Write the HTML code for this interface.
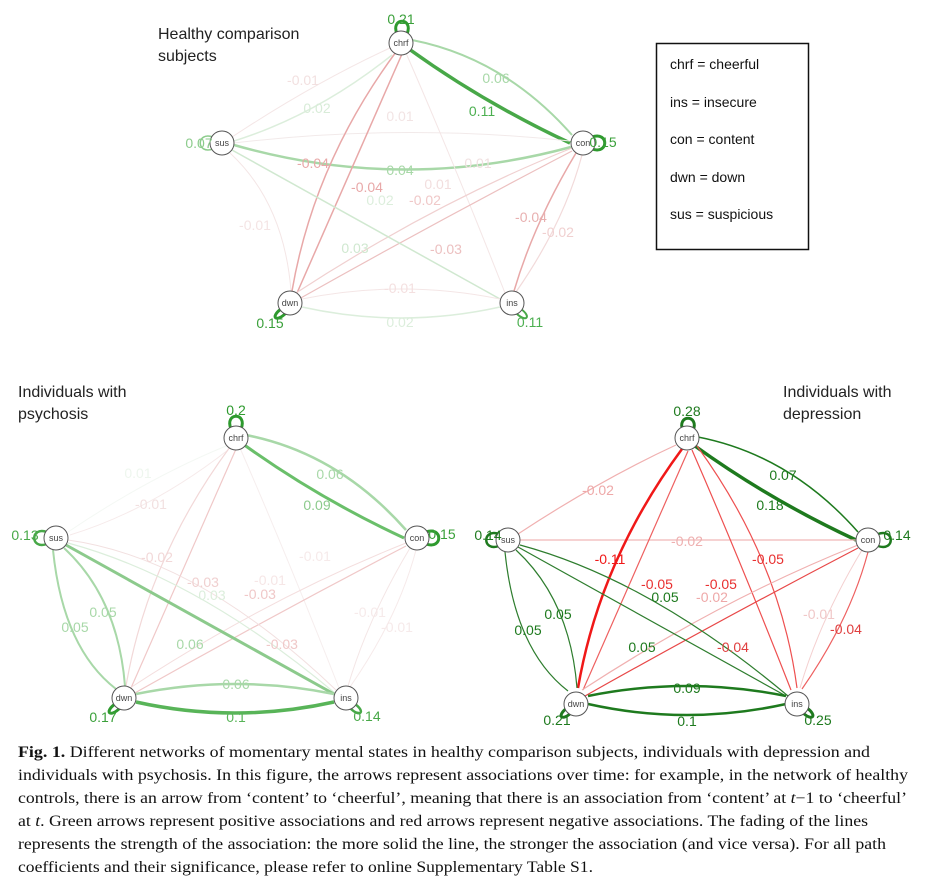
<!DOCTYPE html>
<html><head><meta charset="utf-8"><style>
body{margin:0;background:#fff;width:939px;height:880px;overflow:hidden}
svg{display:block}
.t{font-family:"Liberation Sans",Arial,sans-serif;font-size:16px;fill:#222}
.l{font-family:"Liberation Sans",Arial,sans-serif;font-size:14px;text-anchor:middle}
.n{font-family:"Liberation Sans",Arial,sans-serif;font-size:9px;text-anchor:middle;fill:#444}
.c{font-family:"Liberation Serif","DejaVu Serif",serif;font-size:15.5px;fill:#111}
path{fill:none}
</style></head><body>
<svg width="939" height="880" viewBox="0 0 939 880" xmlns="http://www.w3.org/2000/svg">
<defs>
<marker id="g1" viewBox="0 0 4 4" markerUnits="userSpaceOnUse" markerWidth="10" markerHeight="10" refX="3.5" refY="2" orient="auto"><path d="M0,0L4,2L0,4z" fill="#48a848"/></marker>
<marker id="g2" viewBox="0 0 4 4" markerUnits="userSpaceOnUse" markerWidth="9" markerHeight="9" refX="3.5" refY="2" orient="auto"><path d="M0,0L4,2L0,4z" fill="#a8d8a8"/></marker>
<marker id="g3" viewBox="0 0 4 4" markerUnits="userSpaceOnUse" markerWidth="8" markerHeight="8" refX="3.5" refY="2" orient="auto"><path d="M0,0L4,2L0,4z" fill="#dceedc"/></marker>
<marker id="dg" viewBox="0 0 4 4" markerUnits="userSpaceOnUse" markerWidth="10" markerHeight="10" refX="3.5" refY="2" orient="auto"><path d="M0,0L4,2L0,4z" fill="#1e7a1e"/></marker>
<marker id="r1" viewBox="0 0 4 4" markerUnits="userSpaceOnUse" markerWidth="8" markerHeight="8" refX="3.5" refY="2" orient="auto"><path d="M0,0L4,2L0,4z" fill="#e8a8a8"/></marker>
<marker id="r2" viewBox="0 0 4 4" markerUnits="userSpaceOnUse" markerWidth="8" markerHeight="8" refX="3.5" refY="2" orient="auto"><path d="M0,0L4,2L0,4z" fill="#f2d8d8"/></marker>
<marker id="rr" viewBox="0 0 4 4" markerUnits="userSpaceOnUse" markerWidth="10" markerHeight="10" refX="3.5" refY="2" orient="auto"><path d="M0,0L4,2L0,4z" fill="#f01818"/></marker>
<marker id="rm" viewBox="0 0 4 4" markerUnits="userSpaceOnUse" markerWidth="9" markerHeight="9" refX="3.5" refY="2" orient="auto"><path d="M0,0L4,2L0,4z" fill="#e84848"/></marker>
<marker id="rp" viewBox="0 0 4 4" markerUnits="userSpaceOnUse" markerWidth="9" markerHeight="9" refX="3.5" refY="2" orient="auto"><path d="M0,0L4,2L0,4z" fill="#eea8a8"/></marker>
</defs>

<!-- Healthy -->
<text class="t" x="158" y="39">Healthy comparison</text>
<text class="t" x="158" y="61">subjects</text>
<g transform="translate(222,43)">
<path d="M350,92 Q282,15 190,-3" stroke="#a8d8a8" stroke-width="2" marker-end="url(#g2)"/>
<path d="M187,6 Q262,60 348,100" stroke="#48a848" stroke-width="3.5" marker-end="url(#g1)"/>
<path d="M10,94 Q92,40 168,5" stroke="#f4e6e6" stroke-width="1" marker-end="url(#r2)"/>
<path d="M170,12 Q95,72 12,98" stroke="#dceedc" stroke-width="1.5" marker-end="url(#g3)"/>
<path d="M349,104 Q180,150 12,102" stroke="#a8d8a8" stroke-width="2.5" marker-end="url(#g2)"/>
<path d="M12,100 Q180,80 348,98" stroke="#f2eaea" stroke-width="1"/>
<path d="M174,9 Q92,120 70,248" stroke="#e8a8a8" stroke-width="1.5" marker-end="url(#r1)"/>
<path d="M75,250 Q132,120 180,11" stroke="#e8a8a8" stroke-width="1.5" marker-end="url(#r1)"/>
<path d="M184,10 Q232,120 283,250" stroke="#f4e6e6" stroke-width="1"/>
<path d="M77,256 Q212,180 350,108" stroke="#ecc0c0" stroke-width="1.2" marker-end="url(#r2)"/>
<path d="M350,105 Q212,160 74,250" stroke="#f0d0d0" stroke-width="1.2" marker-end="url(#r2)"/>
<path d="M294,249 Q342,180 360,112" stroke="#f2dada" stroke-width="1.2"/>
<path d="M354,110 Q312,180 292,248" stroke="#e8a8a8" stroke-width="1.5" marker-end="url(#r1)"/>
<path d="M10,107 Q142,180 278,256" stroke="#d0e8d0" stroke-width="1.5" marker-end="url(#g3)"/>
<path d="M69,248 Q62,160 8,110" stroke="#f4e6e6" stroke-width="1" marker-end="url(#r2)"/>
<path d="M278,256 Q179,236 80,256" stroke="#f4e6e6" stroke-width="1"/>
<path d="M80,264 Q179,286 278,264" stroke="#dceedc" stroke-width="1.5" marker-end="url(#g3)"/>
<path d="M-5,-9 C-12,-26 12,-26 5,-9" transform="translate(180,0)" stroke="#2e9a2e" stroke-width="3"/>
<path d="M9,-6 C26,-12 26,12 9,6" transform="translate(361,100)" stroke="#2e9a2e" stroke-width="3"/>
<path d="M-9,-6 C-26,-12 -26,12 -9,6" transform="translate(0,100)" stroke="#8ccc8c" stroke-width="1.5"/>
<path d="M-9,6 C-20,14 -14,20 -4,10" transform="translate(68,260)" stroke="#2e9a2e" stroke-width="3"/>
<path d="M9,6 C20,14 14,20 4,10" transform="translate(290,260)" stroke="#48a848" stroke-width="2"/>
</g>
<g fill="#fff" stroke="#555" stroke-width="1">
<circle cx="401" cy="43" r="12"/><circle cx="583" cy="143" r="12"/><circle cx="222" cy="143" r="12"/><circle cx="290" cy="303" r="12"/><circle cx="512" cy="303" r="12"/>
</g>
<text class="n" x="401" y="46">chrf</text><text class="n" x="583" y="146">con</text><text class="n" x="222" y="146">sus</text><text class="n" x="290" y="306">dwn</text><text class="n" x="512" y="306">ins</text>
<text class="l" x="401" y="24" fill="#3aa03a">0.21</text>
<text class="l" x="496" y="83" fill="#a8d8a8">0.06</text>
<text class="l" x="482" y="116" fill="#4caf50">0.11</text>
<text class="l" x="603" y="147" fill="#3aa03a">0.15</text>
<text class="l" x="199" y="148" fill="#8ccc8c">0.07</text>
<text class="l" x="303" y="85" fill="#f2e0e0">-0.01</text>
<text class="l" x="317" y="113" fill="#d8ecd8">0.02</text>
<text class="l" x="400" y="121" fill="#f2e4e4">0.01</text>
<text class="l" x="313" y="168" fill="#e8a8a8">-0.04</text>
<text class="l" x="400" y="175" fill="#a8d8a8">0.04</text>
<text class="l" x="478" y="168" fill="#f0e0e0">0.01</text>
<text class="l" x="367" y="192" fill="#e8a8a8">-0.04</text>
<text class="l" x="438" y="189" fill="#f2dede">0.01</text>
<text class="l" x="380" y="205" fill="#dceedc">0.02</text>
<text class="l" x="425" y="205" fill="#f0c8c8">-0.02</text>
<text class="l" x="255" y="230" fill="#f4e4e4">-0.01</text>
<text class="l" x="355" y="253" fill="#d0e8d0">0.03</text>
<text class="l" x="446" y="254" fill="#ecc0c0">-0.03</text>
<text class="l" x="531" y="222" fill="#e8b0b0">-0.04</text>
<text class="l" x="558" y="237" fill="#f0d0d0">-0.02</text>
<text class="l" x="400" y="293" fill="#f4e0e0">-0.01</text>
<text class="l" x="400" y="327" fill="#dceedc">0.02</text>
<text class="l" x="270" y="328" fill="#3aa03a">0.15</text>
<text class="l" x="530" y="327" fill="#4caf50">0.11</text>

<!-- Legend -->
<rect x="656.5" y="43.5" width="152" height="206" fill="#fff" stroke="#111" stroke-width="1.5"/>
<g font-family="Liberation Sans, Arial, sans-serif" font-size="14" fill="#111">
<text x="670" y="69">chrf = cheerful</text>
<text x="670" y="107">ins = insecure</text>
<text x="670" y="144">con = content</text>
<text x="670" y="182">dwn = down</text>
<text x="670" y="219">sus = suspicious</text>
</g>

<!-- Psychosis -->
<text class="t" x="18" y="397">Individuals with</text>
<text class="t" x="18" y="419">psychosis</text>
<g transform="translate(56,438)">
<path d="M350,92 Q282,15 190,-3" stroke="#a8d8a8" stroke-width="2.5" marker-end="url(#g2)"/>
<path d="M187,6 Q262,60 348,100" stroke="#6abf6a" stroke-width="3" marker-end="url(#g1)"/>
<path d="M170,8 Q92,40 12,94" stroke="#f4f8f4" stroke-width="1"/>
<path d="M172,12 Q95,72 14,97" stroke="#f6eaea" stroke-width="1"/>
<path d="M174,9 Q92,120 70,248" stroke="#f2d8d8" stroke-width="1.2" marker-end="url(#r2)"/>
<path d="M75,250 Q132,120 180,11" stroke="#f0c8c8" stroke-width="1.2" marker-end="url(#r2)"/>
<path d="M184,10 Q232,120 283,250" stroke="#f6eeee" stroke-width="1"/>
<path d="M77,256 Q212,180 350,108" stroke="#f0c8c8" stroke-width="1.2" marker-end="url(#r2)"/>
<path d="M350,105 Q212,160 74,250" stroke="#f4dede" stroke-width="1" marker-end="url(#r2)"/>
<path d="M294,249 Q342,180 360,112" stroke="#f6eaea" stroke-width="1"/>
<path d="M354,110 Q312,180 292,248" stroke="#f4e6e6" stroke-width="1"/>
<path d="M280,256 Q142,140 12,105" stroke="#dceedc" stroke-width="1.2" marker-end="url(#g3)"/>
<path d="M10,107 Q142,180 278,256" stroke="#8cca8c" stroke-width="3" marker-end="url(#g2)"/>
<path d="M280,252 Q142,120 12,102" stroke="#f2e0e0" stroke-width="1"/>
<path d="M-3,112 Q7,210 60,251" stroke="#a8d8a8" stroke-width="2" marker-end="url(#g2)"/>
<path d="M69,248 Q62,160 8,110" stroke="#a8d8a8" stroke-width="2" marker-end="url(#g2)"/>
<path d="M278,256 Q179,236 80,256" stroke="#a8d8a8" stroke-width="2.5" marker-end="url(#g2)"/>
<path d="M80,264 Q179,286 278,264" stroke="#58b458" stroke-width="3.5" marker-end="url(#g1)"/>
<path d="M-5,-9 C-12,-26 12,-26 5,-9" transform="translate(180,0)" stroke="#2e9a2e" stroke-width="3"/>
<path d="M9,-6 C26,-12 26,12 9,6" transform="translate(361,100)" stroke="#2e9a2e" stroke-width="3"/>
<path d="M-9,-6 C-26,-12 -26,12 -9,6" transform="translate(0,100)" stroke="#48a848" stroke-width="2.5"/>
<path d="M-9,6 C-20,14 -14,20 -4,10" transform="translate(68,260)" stroke="#2e9a2e" stroke-width="3"/>
<path d="M9,6 C20,14 14,20 4,10" transform="translate(290,260)" stroke="#48a848" stroke-width="2.5"/>
</g>
<g fill="#fff" stroke="#555" stroke-width="1">
<circle cx="236" cy="438" r="12"/><circle cx="417" cy="538" r="12"/><circle cx="56" cy="538" r="12"/><circle cx="124" cy="698" r="12"/><circle cx="346" cy="698" r="12"/>
</g>
<text class="n" x="236" y="441">chrf</text><text class="n" x="417" y="541">con</text><text class="n" x="56" y="541">sus</text><text class="n" x="124" y="701">dwn</text><text class="n" x="346" y="701">ins</text>
<text class="l" x="236" y="415" fill="#2e9a2e">0.2</text>
<text class="l" x="330" y="479" fill="#a8d8a8">0.06</text>
<text class="l" x="317" y="510" fill="#8cca8c">0.09</text>
<text class="l" x="442" y="539" fill="#3aa03a">0.15</text>
<text class="l" x="25" y="540" fill="#48a848">0.13</text>
<text class="l" x="138" y="478" fill="#eef6ee">0.01</text>
<text class="l" x="151" y="509" fill="#f2e0e0">-0.01</text>
<text class="l" x="157" y="562" fill="#f2d8d8">-0.02</text>
<text class="l" x="203" y="587" fill="#f0d0d0">-0.03</text>
<text class="l" x="212" y="600" fill="#dceedc">0.03</text>
<text class="l" x="260" y="599" fill="#f0c8c8">-0.03</text>
<text class="l" x="270" y="585" fill="#f6e6e6">-0.01</text>
<text class="l" x="315" y="561" fill="#f6eaea">-0.01</text>
<text class="l" x="103" y="617" fill="#a8d8a8">0.05</text>
<text class="l" x="75" y="632" fill="#a8d8a8">0.05</text>
<text class="l" x="190" y="649" fill="#a8d8a8">0.06</text>
<text class="l" x="282" y="649" fill="#f0c8c8">-0.03</text>
<text class="l" x="370" y="617" fill="#f6eaea">-0.01</text>
<text class="l" x="397" y="632" fill="#f6eaea">-0.01</text>
<text class="l" x="236" y="689" fill="#a8d8a8">0.06</text>
<text class="l" x="236" y="722" fill="#58b458">0.1</text>
<text class="l" x="103" y="722" fill="#3aa03a">0.17</text>
<text class="l" x="367" y="721" fill="#48a848">0.14</text>

<!-- Depression -->
<text class="t" x="783" y="397">Individuals with</text>
<text class="t" x="783" y="419">depression</text>
<g transform="translate(508,440)">
<path d="M350,92 Q282,15 190,-3" stroke="#1e7a1e" stroke-width="1.5" marker-end="url(#dg)"/>
<path d="M187,6 Q262,60 348,100" stroke="#1e7a1e" stroke-width="3.5" marker-end="url(#dg)"/>
<path d="M10,94 Q92,40 168,5" stroke="#f0b0b0" stroke-width="1.2" marker-end="url(#rp)"/>
<path d="M11,100 L348,100" stroke="#f0b8b8" stroke-width="1.2" marker-end="url(#rp)"/>
<path d="M174,9 Q92,120 70,248" stroke="#f01818" stroke-width="2.5" marker-end="url(#rr)"/>
<path d="M75,250 Q132,120 180,11" stroke="#ee6060" stroke-width="1.2" marker-end="url(#rm)"/>
<path d="M184,10 Q232,120 283,250" stroke="#ee5050" stroke-width="1.2" marker-end="url(#rm)"/>
<path d="M289,248 Q272,120 189,6" stroke="#ee5050" stroke-width="1.2" marker-end="url(#rm)"/>
<path d="M77,256 Q212,180 350,108" stroke="#e84848" stroke-width="1.2" marker-end="url(#rm)"/>
<path d="M294,249 Q342,180 360,112" stroke="#ee6060" stroke-width="1.2" marker-end="url(#rm)"/>
<path d="M354,110 Q312,180 292,248" stroke="#f4d0d0" stroke-width="1" marker-end="url(#rp)"/>
<path d="M350,105 Q212,160 74,250" stroke="#f0b0b0" stroke-width="1.2" marker-end="url(#rp)"/>
<path d="M280,256 Q142,140 12,105" stroke="#2e7d2e" stroke-width="1.2" marker-end="url(#dg)"/>
<path d="M10,107 Q142,180 278,256" stroke="#2e7d2e" stroke-width="1.2" marker-end="url(#dg)"/>
<path d="M-3,112 Q7,210 60,251" stroke="#2e7d2e" stroke-width="1.2" marker-end="url(#dg)"/>
<path d="M69,248 Q62,160 8,110" stroke="#2e7d2e" stroke-width="1.2" marker-end="url(#dg)"/>
<path d="M278,256 Q179,236 80,256" stroke="#1e7a1e" stroke-width="2.5" marker-end="url(#dg)"/>
<path d="M80,264 Q179,286 278,264" stroke="#1e7a1e" stroke-width="2.5" marker-end="url(#dg)"/>
<path d="M-5,-9 C-12,-26 12,-26 5,-9" transform="translate(180,0)" stroke="#1e7a1e" stroke-width="3"/>
<path d="M9,-6 C26,-12 26,12 9,6" transform="translate(361,100)" stroke="#1e7a1e" stroke-width="2.5"/>
<path d="M-9,-6 C-26,-12 -26,12 -9,6" transform="translate(0,100)" stroke="#1e7a1e" stroke-width="2.5"/>
<path d="M-9,6 C-20,14 -14,20 -4,10" transform="translate(68,262)" stroke="#1e7a1e" stroke-width="3"/>
<path d="M9,6 C20,14 14,20 4,10" transform="translate(290,262)" stroke="#1e7a1e" stroke-width="3"/>
</g>
<g fill="#fff" stroke="#555" stroke-width="1">
<circle cx="687" cy="438" r="12"/><circle cx="868" cy="540" r="12"/><circle cx="508" cy="540" r="12"/><circle cx="576" cy="704" r="12"/><circle cx="797" cy="704" r="12"/>
</g>
<text class="n" x="687" y="441">chrf</text><text class="n" x="868" y="543">con</text><text class="n" x="508" y="543">sus</text><text class="n" x="576" y="707">dwn</text><text class="n" x="797" y="707">ins</text>
<text class="l" x="687" y="416" fill="#1e7a1e">0.28</text>
<text class="l" x="783" y="480" fill="#1e7a1e">0.07</text>
<text class="l" x="770" y="510" fill="#1e7a1e">0.18</text>
<text class="l" x="598" y="495" fill="#eea8a8">-0.02</text>
<text class="l" x="488" y="540" fill="#1e7a1e">0.14</text>
<text class="l" x="897" y="540" fill="#1e7a1e">0.14</text>
<text class="l" x="687" y="546" fill="#eeb0b0">-0.02</text>
<text class="l" x="610" y="564" fill="#f01818">-0.11</text>
<text class="l" x="657" y="589" fill="#e83030">-0.05</text>
<text class="l" x="665" y="602" fill="#1e7a1e">0.05</text>
<text class="l" x="721" y="589" fill="#e83030">-0.05</text>
<text class="l" x="712" y="602" fill="#eea8a8">-0.02</text>
<text class="l" x="768" y="564" fill="#e83030">-0.05</text>
<text class="l" x="819" y="619" fill="#f0c8c8">-0.01</text>
<text class="l" x="846" y="634" fill="#e04040">-0.04</text>
<text class="l" x="558" y="619" fill="#1e7a1e">0.05</text>
<text class="l" x="528" y="635" fill="#1e7a1e">0.05</text>
<text class="l" x="642" y="652" fill="#1e7a1e">0.05</text>
<text class="l" x="733" y="652" fill="#e04040">-0.04</text>
<text class="l" x="687" y="693" fill="#1e7a1e">0.09</text>
<text class="l" x="687" y="726" fill="#1e7a1e">0.1</text>
<text class="l" x="557" y="725" fill="#1e7a1e">0.21</text>
<text class="l" x="818" y="725" fill="#1e7a1e">0.25</text>

<!-- Caption -->
<text class="c" x="18" y="757" textLength="852" lengthAdjust="spacingAndGlyphs"><tspan font-weight="bold">Fig. 1.</tspan> Different networks of momentary mental states in healthy comparison subjects, individuals with depression and</text>
<text class="c" x="18" y="780" textLength="890" lengthAdjust="spacingAndGlyphs">individuals with psychosis. In this figure, the arrows represent associations over time: for example, in the network of healthy</text>
<text class="c" x="18" y="803" textLength="889" lengthAdjust="spacingAndGlyphs">controls, there is an arrow from ‘content’ to ‘cheerful’, meaning that there is an association from ‘content’ at <tspan font-style="italic">t</tspan>−1 to ‘cheerful’</text>
<text class="c" x="18" y="826" textLength="850" lengthAdjust="spacingAndGlyphs">at <tspan font-style="italic">t</tspan>. Green arrows represent positive associations and red arrows represent negative associations. The fading of the lines</text>
<text class="c" x="18" y="849" textLength="868" lengthAdjust="spacingAndGlyphs">represents the strength of the association: the more solid the line, the stronger the association (and vice versa). For all path</text>
<text class="c" x="18" y="872" textLength="575" lengthAdjust="spacingAndGlyphs">coefficients and their significance, please refer to online Supplementary Table S1.</text>
</svg>
</body></html>
